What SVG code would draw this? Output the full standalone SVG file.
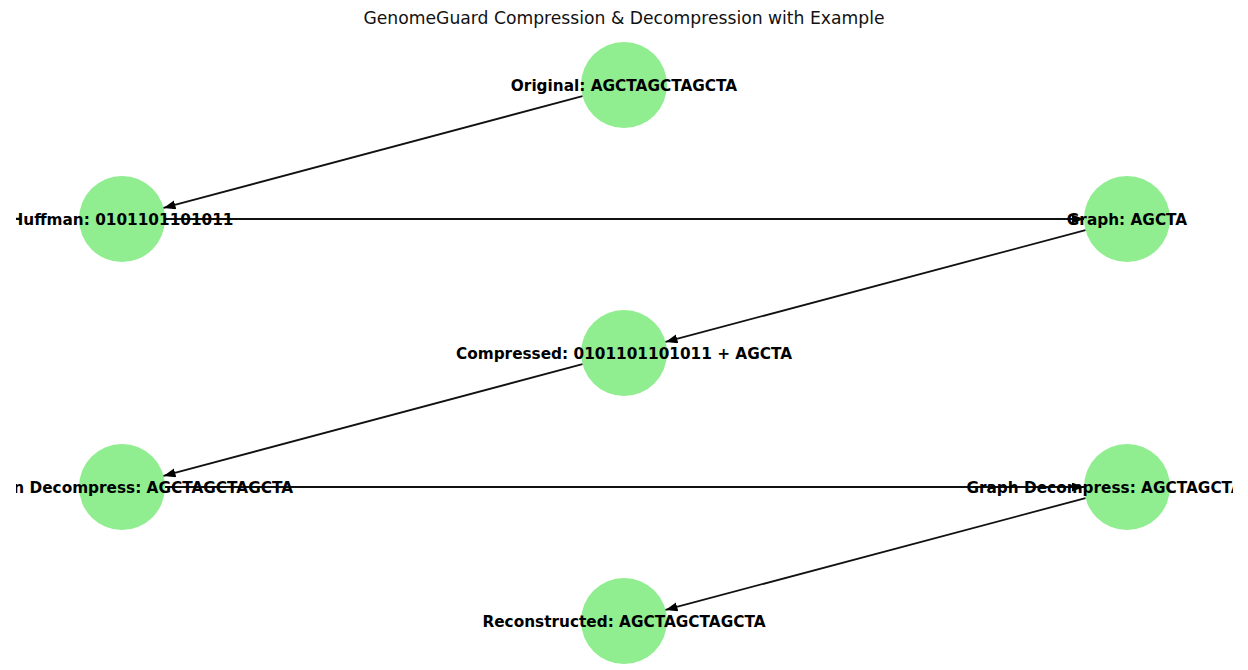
<svg xmlns="http://www.w3.org/2000/svg" width="1248" height="670" viewBox="0 0 1248 670">
<style>
.node circle{fill:#90ee90;stroke:none}
.node text{font-family:"DejaVu Sans",sans-serif;font-weight:bold;font-size:15.3px;fill:#000;text-anchor:middle}
.edge{stroke:#111;stroke-width:1.8;fill:none;marker-end:url(#arr)}
.title{font-family:"DejaVu Sans",sans-serif;font-size:17.2px;fill:#111;text-anchor:middle}
</style>
<defs>
<marker id="arr" markerUnits="userSpaceOnUse" markerWidth="13" markerHeight="10" refX="12" refY="4.5" orient="auto">
<path d="M0,0 L12,4.5 L0,9 z" fill="#000"/>
</marker>
<clipPath id="ax"><rect x="16" y="0" width="1217" height="670"/></clipPath>
</defs>
<rect width="1248" height="670" fill="#fff"/>
<text class="title" x="624" y="24">GenomeGuard Compression &amp; Decompression with Example</text>
<g clip-path="url(#ax)">
<g id="nodes-circles">
<g id="n-original" class="node"><circle cx="624" cy="85" r="43"/></g>
<g id="n-huffman" class="node"><circle cx="122" cy="219" r="43"/></g>
<g id="n-graph" class="node"><circle cx="1127" cy="219" r="43"/></g>
<g id="n-compressed" class="node"><circle cx="624" cy="353" r="43"/></g>
<g id="n-hdec" class="node"><circle cx="122" cy="487" r="43"/></g>
<g id="n-gdec" class="node"><circle cx="1127" cy="487" r="43"/></g>
<g id="n-recon" class="node"><circle cx="624" cy="621" r="43"/></g>
</g>
<g id="connectors">
<line class="edge" x1="582.5" y1="96.1" x2="163.5" y2="207.9"/>
<line class="edge" x1="165" y1="219" x2="1084" y2="219"/>
<line class="edge" x1="1085.5" y1="230.1" x2="665.5" y2="341.9"/>
<line class="edge" x1="582.5" y1="364.1" x2="163.5" y2="475.9"/>
<line class="edge" x1="165" y1="487" x2="1084" y2="487"/>
<line class="edge" x1="1085.5" y1="498.1" x2="665.5" y2="609.9"/>
</g>
<g id="labels" class="node">
<text x="624" y="90.5">Original: AGCTAGCTAGCTA</text>
<text x="122" y="224.5">Huffman: 0101101101011</text>
<text x="1127" y="224.5">Graph: AGCTA</text>
<text x="624" y="358.5">Compressed: 0101101101011 + AGCTA</text>
<text x="122" y="492.5">Huffman Decompress: AGCTAGCTAGCTA</text>
<text x="1127" y="492.5">Graph Decompress: AGCTAGCTAGCTA</text>
<text x="624" y="626.5">Reconstructed: AGCTAGCTAGCTA</text>
</g>
</g>
</svg>
